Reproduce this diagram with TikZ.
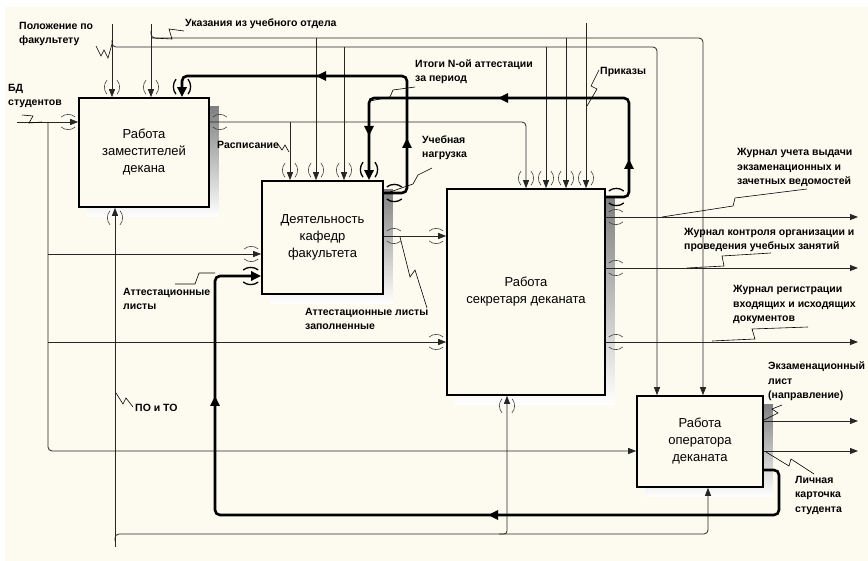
\documentclass[tikz,border=0pt]{standalone}
\usepackage{fontspec}
\setmainfont{Liberation Sans}
\usetikzlibrary{arrows.meta,backgrounds}
\definecolor{bg}{RGB}{253,251,240}
\definecolor{shade}{RGB}{168,168,162}
\begin{document}
\begin{tikzpicture}[x=1pt,y=-1pt,
  box/.style={draw=black, line width=1.6pt, fill=bg, inner sep=0pt, font=\fontsize{13}{17}\selectfont, align=center},
  flow/.style={line width=0.8pt, black!85},
  arr/.style={-{Triangle[length=8pt,width=6pt]}},
  fat/.style={line width=2.6pt, black, rounded corners=5pt},
  fatarr/.style={-{Triangle[length=10pt,width=9pt]}},
  lbl/.style={font=\fontsize{10.5}{14.5}\selectfont\bfseries, align=left, inner sep=0pt, anchor=base west},
  leader/.style={line width=0.6pt, black},
  tun/.pic={\draw[line width=0.6pt, black!75] (-5,-17) .. controls (-8.5,-13) and (-8.5,-7) .. (-5,-3)
                                                 (5,-17) .. controls (8.5,-13) and (8.5,-7) .. (5,-3);},
  tunb/.pic={\draw[line width=1.3pt, black] (-6,-18) .. controls (-9.5,-14) and (-9.5,-7) .. (-6,-3)
                                             (6,-18) .. controls (9.5,-14) and (9.5,-7) .. (6,-3);}
]
\useasboundingbox (0,0) rectangle (868,561);

% boxes
\node[box, minimum width=130pt, minimum height=109pt] (A) at (144,152.5) {Работа\\заместителей\\декана};
\node[box, minimum width=121pt, minimum height=113pt] (B) at (322.5,237.5) {Деятельность\\кафедр\\факультета};
\node[box, minimum width=158pt, minimum height=206pt] (C) at (526,292) {Работа\\секретаря деканата};
\node[box, minimum width=126pt, minimum height=91pt] (D) at (700,441.5) {Работа\\оператора\\деканата};

\begin{scope}[on background layer]
  \fill[white] (0,0) rectangle (868,561);
  \fill[bg] (5,7) rectangle (868,561);
  \foreach \b in {A,B,C,D}{
    \fill[shade] ([shift={(9,9)}]\b.north west) rectangle ([shift={(9,9)}]\b.south east);
  }
\end{scope}

% coordinates
\coordinate (bd) at (17,122);
\coordinate (j1) at (48,122);
\coordinate (kB1) at (48,254);
\coordinate (kC1) at (48,342);
\coordinate (kD1) at (48,451);
\coordinate (pol) at (112,24);
\coordinate (pol2) at (112,40);
\coordinate (h47a) at (112,47);
\coordinate (h47b) at (657,47);
\coordinate (b344) at (344,47);
\coordinate (c546) at (546,47);
\coordinate (uk) at (151,24);
\coordinate (uk2) at (151,31);
\coordinate (h38a) at (151,38);
\coordinate (h38b) at (703,38);
\coordinate (b316) at (316,38);
\coordinate (c566) at (566,38);
\coordinate (r290) at (290,122);
\coordinate (r526) at (526,122);
\coordinate (prik) at (586,23);
\coordinate (bc) at (400,236);
\coordinate (poto) at (115,547);
\coordinate (poto2) at (115,541);
\coordinate (m534a) at (115,534);
\coordinate (m534b) at (708,534);
\coordinate (m500) at (499,534);
\coordinate (m507) at (507,534);
\coordinate (o1) at (858,217);
\coordinate (o2) at (858,268);
\coordinate (o3) at (858,342);
\coordinate (o4) at (858,421);
\coordinate (o5) at (858,451);
\coordinate (t1b) at (407,193);
\coordinate (t1c) at (407,76);
\coordinate (t1d) at (182,76);
\coordinate (t2b) at (629,197);
\coordinate (t2c) at (629,98);
\coordinate (t2d) at (369,98);
\coordinate (t3b) at (779,470);
\coordinate (t3c) at (779,515);
\coordinate (t3d) at (215,515);
\coordinate (t3e) at (215,276);

% thin connectors
\draw[flow,arr] (bd) -- (bd -| A.west);
\draw[flow,arr,rounded corners=4pt] (j1) -- (kD1) -- (kD1 -| D.west);
\draw[flow,arr] (kB1) -- (kB1 -| B.west);
\draw[flow,arr] (kC1) -- (kC1 -| C.west);

\draw[flow,arr] (pol) -- (pol |- A.north);
\draw[flow,arr,rounded corners=4pt] (pol2) -- (h47a) -- (h47b) -- (h47b |- D.north);
\draw[flow,arr] (b344) -- (b344 |- B.north);
\draw[flow,arr] (c546) -- (c546 |- C.north);

\draw[flow,arr] (uk) -- (uk |- A.north);
\draw[flow,arr,rounded corners=4pt] (uk2) -- (h38a) -- (h38b) -- (h38b |- D.north);
\draw[flow,arr] (b316) -- (b316 |- B.north);
\draw[flow,arr] (c566) -- (c566 |- C.north);

\draw[flow,arr,rounded corners=4pt] (bd -| A.east) -- (r526) -- (r526 |- C.north);
\draw[flow,arr] (r290) -- (r290 |- B.north);

\draw[flow,arr] (prik) -- (prik |- C.north);
\draw[flow,arr] (bc -| B.east) -- (bc -| C.west);

\draw[flow,arr] (poto) -- (poto |- A.south);
\draw[flow,arr,rounded corners=4pt] (poto2) -- (m534a) -- (m534b) -- (m534b |- D.south);
\draw[flow,arr,rounded corners=3pt] (m500) -- (m507) -- (m507 |- C.south);

\foreach \o in {o1,o2,o3}{ \draw[flow,arr] (\o -| C.east) -- (\o); }
\foreach \o in {o4,o5}{ \draw[flow,arr] (\o -| D.east) -- (\o); }

% thick feedback connectors
\draw[fat,fatarr] (t1b -| B.east) -- (t1b) -- (t1c) -- (t1d) -- (t1d |- A.north);
\draw[fat,fatarr] (t2b -| C.east) -- (t2b) -- (t2c) -- (t2d) -- (t2d |- B.north);
\draw[fat,fatarr] (t3b -| D.east) -- (t3b) -- (t3c) -- (t3d) -- (t3e) -- (t3e -| B.west);
% mid-path arrowheads
\draw[line width=2.6pt,fatarr] (330,76) -- (316,76);
\draw[line width=2.6pt,fatarr] (407,150) -- (407,138);
\draw[line width=2.6pt,fatarr] (512,98) -- (498,98);
\draw[line width=2.6pt,fatarr] (629,171) -- (629,159);
\draw[line width=2.6pt,fatarr] (369,122) -- (369,136);
\draw[line width=2.6pt,fatarr] (502,515) -- (488,515);
\draw[line width=2.6pt,fatarr] (215,408) -- (215,396);

% tunnel marks
\foreach \p in {pol,uk}{ \pic at (\p |- A.north) {tun}; }
\pic at (t1d |- A.north) {tunb};
\pic[rotate=90] at (bd -| A.west) {tun};
\pic[rotate=-90] at (bd -| A.east) {tun};
\pic[rotate=180] at (poto |- A.south) {tun};
\foreach \p in {r290,b316,b344}{ \pic at (\p |- B.north) {tun}; }
\pic at (t2d |- B.north) {tunb};
\pic[rotate=90] at (kB1 -| B.west) {tun};
\pic[rotate=90] at (t3e -| B.west) {tunb};
\pic[rotate=-90] at (t1b -| B.east) {tunb};
\pic[rotate=-90] at (bc -| B.east) {tun};
\foreach \p in {r526,c546,c566,prik}{ \pic at (\p |- C.north) {tun}; }
\pic[rotate=90] at (bc -| C.west) {tun};
\pic[rotate=90] at (kC1 -| C.west) {tun};
\pic[rotate=-90] at (t2b -| C.east) {tunb};
\foreach \o in {o1,o2,o3}{ \pic[rotate=-90] at (\o -| C.east) {tun}; }
\pic[rotate=180] at (m507 |- C.south) {tun};

% labels (anchor = baseline of last line)
\node[lbl] (lpol) at (19,44) {Положение по\\факультету};
\node[lbl] (luk) at (185,27) {Указания из учебного отдела};
\node[lbl] (lbd) at (8,106) {БД\\студентов};
\node[lbl] (lras) at (217,149) {Расписание};
\node[lbl] (lit) at (415,82) {Итоги N-ой аттестации\\за период};
\node[lbl] (lun) at (422,158) {Учебная\\нагрузка};
\node[lbl] (lpr) at (600,75) {Приказы};
\node[lbl] (lj1) at (737,185) {Журнал учета выдачи\\экзаменационных и\\зачетных ведомостей};
\node[lbl] (lj2) at (684,250) {Журнал контроля организации и\\проведения учебных занятий};
\node[lbl] (lj3) at (733,322) {Журнал регистрации\\входящих и исходящих\\документов};
\node[lbl] (lalz) at (305,330) {Аттестационные листы\\заполненные};
\node[lbl] (lal) at (123,310) {Аттестационные\\листы};
\node[lbl] (lpo) at (135,411) {ПО и ТО};
\node[lbl] (lek) at (768,399) {Экзаменационный\\лист\\(направление)};
\node[lbl] (llk) at (795,512) {Личная\\карточка\\студента};

% leaders
\draw[leader] (96,46) -- (101,56) -- (104,50) -- (108,58) -- (112,44);
\draw[leader] (184,31) -- (169,29) -- (172,39) -- (152,38);
\draw[leader] (22,115) -- (33,116) -- (29,123) -- (42,122);
\draw[leader] (277,143) -- (282,150) -- (285,145) -- (289,152);
\draw[leader] (415,87) -- (393,90) -- (390,97) -- (370,101);
\draw[leader] (432,168) -- (418,175) -- (413,184) -- (390,192);
\draw[leader] (599,70) -- (591,86) -- (597,89) -- (587,106);
\draw[leader] (807,189) -- (735,198) -- (733,206) -- (662,217);
\draw[leader] (771,253) -- (722,256) -- (724,266) -- (687,268);
\draw[leader] (808,327) -- (752,329) -- (755,339) -- (712,341);
\draw[leader] (427,308) -- (415,270) -- (410,277) -- (400,237);
\draw[leader] (175,284) -- (195,284) -- (199,273) -- (215,273);
\draw[leader] (116,393) -- (123,404) -- (126,398) -- (133,407);
\draw[leader] (782,405) -- (772,409) -- (778,413) -- (764,420);
\draw[leader] (814,474) -- (791,459) -- (789,466) -- (766,452);
\end{tikzpicture}
\end{document}
